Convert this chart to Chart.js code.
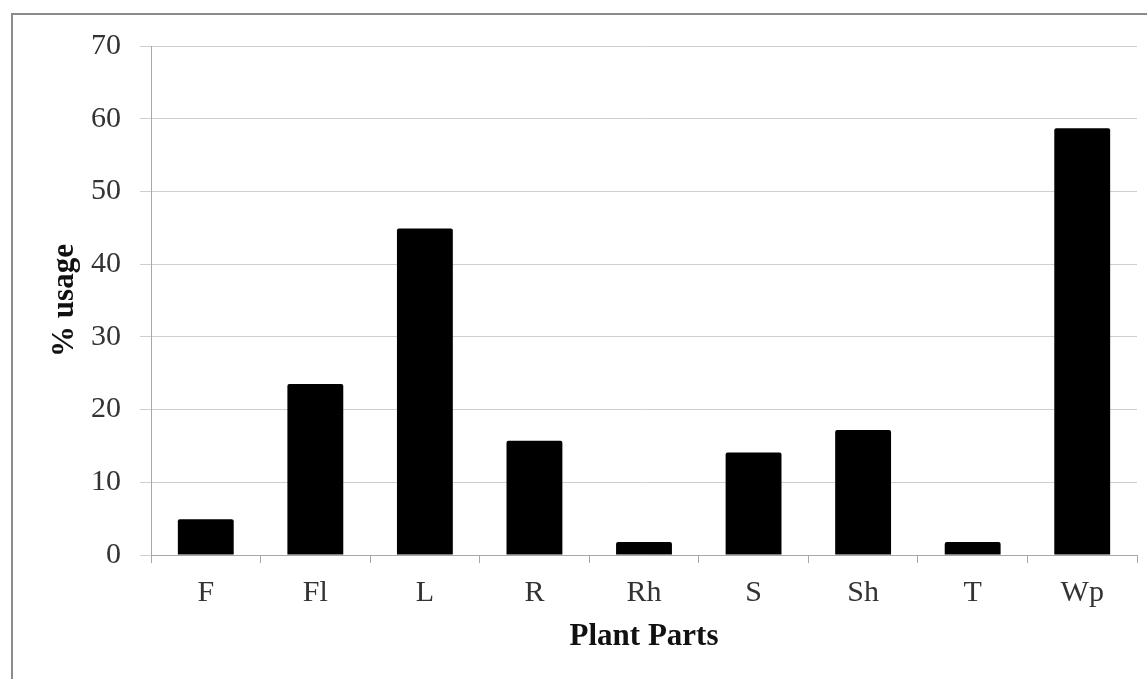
<!DOCTYPE html>
<html>
<head>
<meta charset="utf-8">
<script src="https://cdn.jsdelivr.net/npm/chart.js@4"></script>
<style>
    body { margin: 0; background: #fff; overflow: hidden; }
    #wrap { position: relative; width: 1147px; height: 679px; }
    #frame {
        position: absolute; left: 11px; top: 13px; width: 1200px; height: 700px;
        border-left: 2px solid #8c8c8c; border-top: 2px solid #8c8c8c;
    }
    canvas { position: absolute; left: 0; top: 0; }
</style>
</head>
<body>
<div id="wrap">
    <div id="frame"></div>
    <canvas id="chart" width="1147" height="679"></canvas>
</div>
<script>
// DATA
const plantParts = ["F", "Fl", "L", "R", "Rh", "S", "Sh", "T", "Wp"];
const usage = [4.9, 23.5, 44.9, 15.7, 1.8, 14.1, 17.2, 1.8, 58.7];
const yTicks = { min: 0, max: 70, step: 10 };

const serif = "'Liberation Serif', 'Times New Roman', serif";

const ctx = document.getElementById("chart");

const chart = new Chart(ctx, {
    type: "bar",
    data: {
        labels: plantParts,
        datasets: [
            {
                data: usage,
                backgroundColor: "#000",
                borderWidth: 0,
                borderRadius: 2,
                borderSkipped: "bottom",
                barPercentage: 0.51,
                categoryPercentage: 1,
            },
        ],
    },
    options: {
        responsive: false,
        animation: false,
        devicePixelRatio: 1,
        layout: {
            padding: { left: 40, top: 46, right: 10, bottom: 0 },
        },
        plugins: {
            legend: { display: false },
            tooltip: { enabled: false },
        },
        scales: {
            x: {
                afterFit: (scale) => { scale.height = 124; },
                grid: {
                    offset: true,
                    drawOnChartArea: false,
                    drawTicks: true,
                    tickLength: 8,
                    color: "#a8a8a8",
                },
                border: { color: "#a8a8a8", width: 1 },
                ticks: {
                    padding: 12,
                    color: "#333",
                    font: { family: serif, size: 30 },
                    maxRotation: 0,
                },
                title: {
                    display: true,
                    text: "Plant Parts",
                    color: "#111",
                    font: { family: serif, size: 31, weight: "bold" },
                    padding: { top: 0, bottom: 23 },
                },
            },
            y: {
                min: yTicks.min,
                max: yTicks.max,
                afterFit: (scale) => { scale.width = 111; },
                grid: {
                    color: "#cfcfcf",
                    drawTicks: true,
                    tickLength: 11,
                },
                border: { color: "#a8a8a8", width: 1 },
                ticks: {
                    stepSize: yTicks.step,
                    padding: 19,
                    color: "#333",
                    font: { family: serif, size: 30 },
                },
                title: {
                    display: true,
                    text: "% usage",
                    color: "#111",
                    font: { family: serif, size: 31, weight: "bold" },
                    padding: { top: 6, bottom: 0 },
                },
            },
        },
    },
});
</script>
</body>
</html>
